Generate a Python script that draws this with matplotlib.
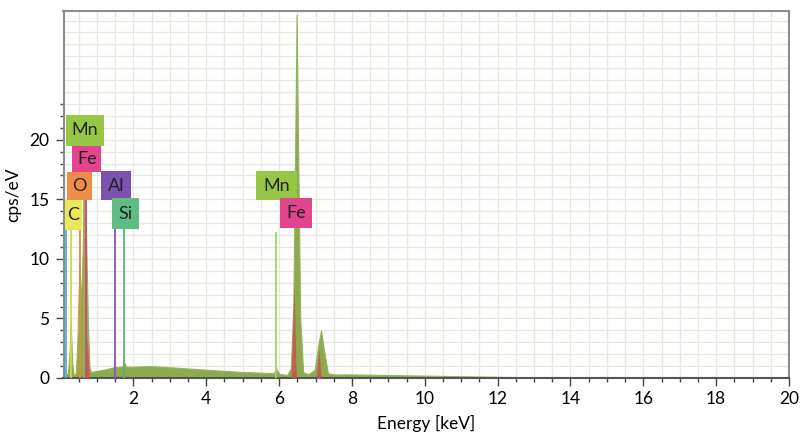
import numpy as np
import matplotlib
matplotlib.use("Agg")
import matplotlib.pyplot as plt
from matplotlib.patches import Rectangle

plt.rcParams['font.family'] = ['Lato', 'DejaVu Sans']

energy = [0.08, 0.12, 0.16, 0.2, 0.24, 0.28, 0.32, 0.36, 0.42, 0.46, 0.52, 0.56, 0.6,
          0.65, 0.7, 0.75, 0.79, 0.83, 0.9, 1.0, 1.2, 1.4, 1.5, 1.6, 1.7, 1.74, 1.8,
          2.0, 2.5, 3.0, 3.5, 4.0, 4.5, 5.0, 5.5, 5.85, 5.92, 6.0, 6.22, 6.32, 6.39,
          6.44, 6.48, 6.53, 6.58, 6.66, 6.8, 6.98, 7.06, 7.15, 7.24, 7.34, 7.5, 8.0,
          9.0, 10.0, 11.0, 12.0, 13.0, 14.0, 15.0, 16.0, 18.0, 20.0]
cps = [0.0, 0.6, 0.3, 0.4, 1.8, 4.5, 1.2, 0.2, 0.4, 3.0, 9.8, 6.0, 10.0,
       15.5, 12.0, 4.5, 1.0, 0.5, 0.55, 0.6, 0.7, 0.85, 0.95, 0.9, 1.0, 1.35, 0.95,
       0.95, 1.0, 0.9, 0.8, 0.7, 0.6, 0.5, 0.45, 0.4, 0.8, 0.35, 0.25, 0.8, 6.0,
       19.0, 30.5, 17.0, 5.0, 0.5, 0.3, 0.7, 2.5, 4.0, 2.2, 0.4, 0.3, 0.3,
       0.25, 0.2, 0.15, 0.1, 0.06, 0.04, 0.03, 0.02, 0.0, 0.0]

# fitted Fe contribution (red)
fe_energy = [0.68, 0.73, 0.79, 6.33, 6.41, 6.47, 7.02, 7.09, 7.16]
fe_cps = [0.0, 3.5, 0.0, 0.0, 8.0, 0.0, 0.0, 2.5, 0.0]
fe_groups = [(0, 3), (3, 6), (6, 9)]

# element labels: text, x0, x1, y0, y1, colour
labels = ['Mn', 'Fe', 'O', 'Al', 'C', 'Si', 'Mn', 'Fe']
box_x0 = [0.15, 0.32, 0.18, 1.12, 0.12, 1.40, 5.37, 6.03]
box_x1 = [1.18, 1.12, 0.87, 1.92, 0.59, 2.14, 6.50, 6.89]
box_y0 = [19.5, 17.3, 14.9, 14.9, 12.4, 12.5, 14.9, 12.6]
box_y1 = [22.1, 19.5, 17.3, 17.4, 14.9, 15.1, 17.35, 15.1]
box_col = ['#97c845', '#e3448e', '#ef8c45', '#7b52ae', '#ece65a', '#5fbd84',
           '#97c845', '#e3448e']

# marker lines: energy, top, colour
line_e = [0.16, 0.28, 0.52, 0.64, 0.71, 1.49, 1.74, 5.92]
line_top = [13.0, 12.4, 14.9, 19.5, 17.3, 14.9, 12.5, 12.2]
line_col = ['#4fb0d8', '#d9d24a', '#e7893f', '#8fb44a', '#d6477f', '#8a55c0',
            '#55b57e', '#a6cf6a']

fig = plt.figure(figsize=(8.01, 4.45), dpi=100)
ax = fig.add_axes([63.5 / 801, 1 - 378 / 445, (789 - 63.5) / 801, (378 - 11) / 445])
ax.set_xlim(0.08, 20)
ax.set_ylim(0, 30.8)

# light grid
ax.vlines(np.arange(0.5, 20, 0.5), 0, 30.8, color='#e3e9dc', lw=0.9, zorder=0)
ax.hlines(np.arange(1, 31, 1), 0.08, 20, color='#e3e9dc', lw=0.9, zorder=0)

ax.fill_between(energy, cps, 0, color='#8cab4e', lw=0.8, edgecolor='#96b45c', zorder=2)
for a, b in fe_groups:
    ax.fill_between(fe_energy[a:b], fe_cps[a:b], 0, color='#c9534d', alpha=0.85, lw=0, zorder=3)

for e, top, c in zip(line_e, line_top, line_col):
    ax.plot([e, e], [0, top], color=c, lw=1.3, zorder=4)

for t, x0, x1, y0, y1, c in zip(labels, box_x0, box_x1, box_y0, box_y1, box_col):
    ax.add_patch(Rectangle((x0, y0), x1 - x0, y1 - y0, facecolor=c, edgecolor='none', zorder=5))
    ax.text((x0 + x1) / 2, (y0 + y1) / 2, t, ha='center', va='center', fontsize=13,
            color='#222222', zorder=6)

ax.set_xticks(np.arange(2, 21, 2))
ax.set_xticks(np.arange(0.5, 20.1, 0.5), minor=True)
ax.set_yticks([0, 5, 10, 15, 20])
ax.set_yticks(np.arange(0, 24, 1), minor=True)
ax.tick_params(which='major', length=6, width=1, color='#444444', labelsize=12.5, pad=3)
ax.tick_params(which='minor', length=3, width=1, color='#444444')
ax.tick_params(axis='y', pad=4)

for s in ax.spines.values():
    s.set_color('#8c8c8c')
    s.set_linewidth(1.5)
ax.spines['bottom'].set_color('#555555')

ax.set_xlabel('Energy [keV]', fontsize=12.5, labelpad=6)
ax.set_ylabel('cps/eV', fontsize=12.5, labelpad=6)

fig.savefig('out.png', dpi=100)
